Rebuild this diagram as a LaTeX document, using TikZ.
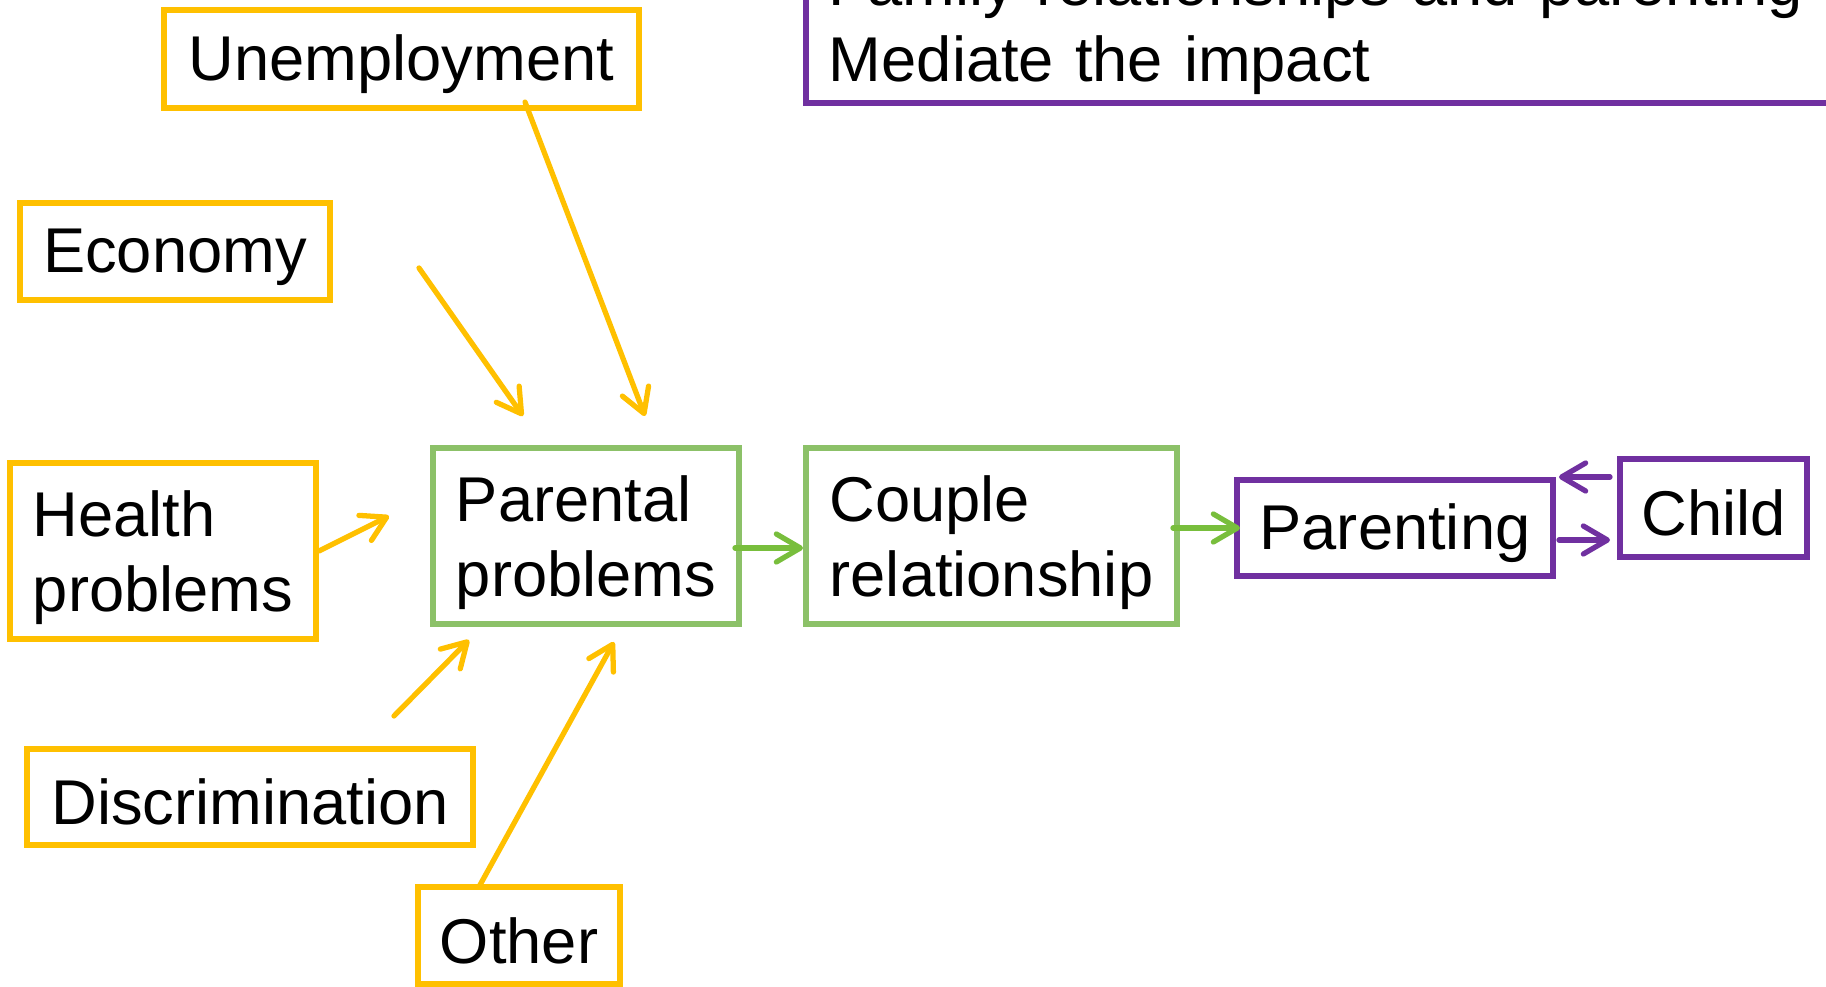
\documentclass[tikz,border=0pt]{standalone}
\usepackage{fontspec}
\setmainfont{Liberation Sans}
\usetikzlibrary{arrows.meta,calc,positioning}
\definecolor{gold}{HTML}{FFC000}
\definecolor{leafgreen}{HTML}{8CC168}
\definecolor{arrowgreen}{HTML}{78BE3C}
\definecolor{plum}{HTML}{7030A0}

\begin{document}
\begin{tikzpicture}[
  box/.style={draw, line width=1.7pt, align=left, inner sep=0pt, font=\fontsize{18}{21.4}\selectfont,
    execute at begin node={\rule{0pt}{0.56cm}}},
  twolines/.style={minimum height=1.76cm, text depth=0cm},
  factor/.style={box, draw=gold},
  couplebox/.style={box, draw=leafgreen},
  familybox/.style={box, draw=plum},
  link/.style={line width=1.5pt, line cap=round, -{Straight Barb[length=2.4mm,width=2.8mm,round]}},
]
        % Page frame
        \useasboundingbox (0,0) rectangle (18.26,9.87);
        \clip (0,0) rectangle (18.26,9.87);
        % Outside factors
        \node[factor, minimum width=4.75cm, minimum height=0.98cm] (unemp) at (4.015,9.28) {Unemployment};
        \node[factor, minimum width=3.10cm, minimum height=0.97cm] (econ) at (1.75,7.355) {Economy};
        \node[factor, twolines, minimum width=3.06cm] (health) at (1.63,4.36) {Health\\problems};
        \node[factor, minimum width=4.46cm, minimum height=0.96cm] (discrim) at (2.50,1.90) {Discrimination};
        \node[factor, minimum width=2.02cm, minimum height=0.97cm] (other) at (5.19,0.515) {Other};
        % Couple level
        \node[couplebox, twolines, minimum width=3.06cm] (parental) at (5.86,4.51) {Parental\\problems};
        \node[couplebox, twolines, minimum width=3.71cm] (couple) at (9.915,4.51) {Couple\\relationship};
        % Family level
        \node[familybox, minimum width=3.16cm, minimum height=0.96cm] (parenting) at (13.95,4.59) {Parenting};
        \node[familybox, minimum width=1.87cm, minimum height=0.98cm] (child) at (17.135,4.79) {Child};
        \node[familybox, anchor=south west, text width=10cm, inner xsep=0.23cm, inner ysep=0.088cm] (impact) at (8.03,8.81) {Family relationships and parenting\\Mediate the impact};
        % Free arrow ends
        \coordinate (unemp-from) at (5.25,8.85);
        \coordinate (unemp-to) at (6.45,5.71);
        \coordinate (econ-from) at (4.19,7.19);
        \coordinate (econ-to) at (5.23,5.71);
        \coordinate (health-to) at (3.89,4.71);
        \coordinate (discrim-from) at (3.94,2.71);
        \coordinate (discrim-to) at (4.69,3.47);
        \coordinate (other-from) at (4.80,1.02);
        \coordinate (other-to) at (6.14,3.45);
        % Stressors
        \draw[link, gold] (unemp-from) -- (unemp-to);
        \draw[link, gold] (econ-from) -- (econ-to);
        \draw[link, gold] (health.east) -- (health-to);
        \draw[link, gold] (discrim-from) -- (discrim-to);
        \draw[link, gold] (other-from) -- (other-to);
        % Chain to the child
        \draw[link, arrowgreen] ([xshift=-0.7mm,yshift=-1.2mm]parental.east) -- ([yshift=-1.2mm]couple.west);
        \draw[link, arrowgreen] ([xshift=-0.7mm]couple.east |- parenting.west) -- ([xshift=0.6mm]parenting.west);
        \draw[link, plum] ([xshift=-0.7mm]child.west |- parenting.north east) -- ([xshift=0.3mm]parenting.north east);
        \draw[link, plum] ([xshift=0.3mm,yshift=-1.2mm]parenting.east) -- ([xshift=-0.7mm,yshift=-1.2mm]child.west |- parenting.east);
      \end{tikzpicture}
\end{document}
